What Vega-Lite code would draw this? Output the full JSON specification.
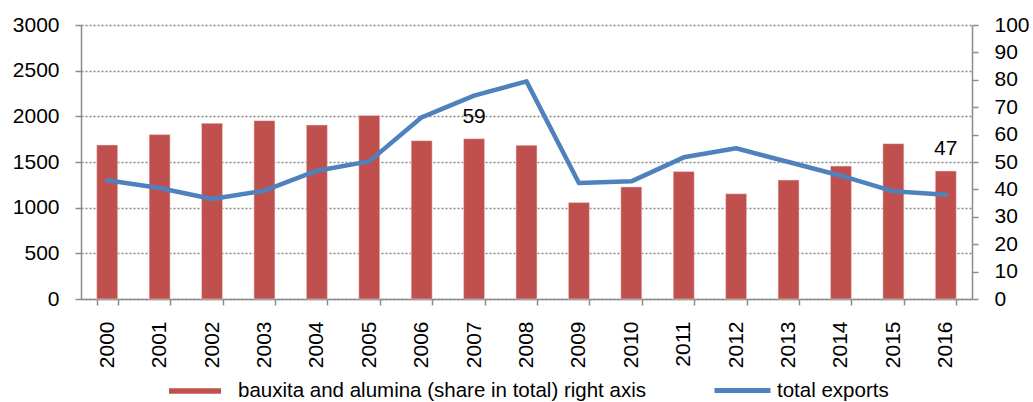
{
  "$schema": "https://vega.github.io/schema/vega-lite/v6.json",
  "autosize": "none",
  "width": 891,
  "height": 274,
  "padding": {"left": 81, "top": 25, "right": 61, "bottom": 103},
  "background": "white",
  "config": {
    "view": {"stroke": null},
    "font": "Liberation Sans",
    "axis": {
      "labelFont": "Liberation Sans",
      "labelFontSize": 21,
      "labelColor": "#000000",
      "domainColor": "#8c8c8c",
      "domainWidth": 1.5,
      "tickColor": "#8c8c8c",
      "tickWidth": 1.5,
      "tickSize": 6,
      "title": null
    },
    "legend": {
      "labelFont": "Liberation Sans",
      "labelFontSize": 20.5,
      "labelColor": "#000000",
      "labelLimit": 0,
      "title": null
    }
  },
  "data": {
    "values": [
      {"year": "2000", "share": 56.2, "exports": 1300},
      {"year": "2001", "share": 60.0, "exports": 1215},
      {"year": "2002", "share": 64.1, "exports": 1095},
      {"year": "2003", "share": 65.1, "exports": 1186},
      {"year": "2004", "share": 63.5, "exports": 1405},
      {"year": "2005", "share": 67.0, "exports": 1507},
      {"year": "2006", "share": 57.8, "exports": 1989},
      {"year": "2007", "share": 58.5, "exports": 2226, "label": "59"},
      {"year": "2008", "share": 56.1, "exports": 2383},
      {"year": "2009", "share": 35.2, "exports": 1270},
      {"year": "2010", "share": 40.9, "exports": 1288},
      {"year": "2011", "share": 46.5, "exports": 1551},
      {"year": "2012", "share": 38.4, "exports": 1650},
      {"year": "2013", "share": 43.4, "exports": 1500},
      {"year": "2014", "share": 48.5, "exports": 1350},
      {"year": "2015", "share": 56.7, "exports": 1179},
      {"year": "2016", "share": 46.7, "exports": 1142, "label": "47"}
    ]
  },
  "encoding": {
    "x": {
      "field": "year",
      "type": "nominal",
      "scale": {"paddingInner": 0.6, "paddingOuter": 0.3},
      "axis": {
        "labelAngle": -90,
        "labelAlign": "right",
        "labelBaseline": "middle",
        "labelPadding": 16,
        "tickBand": "extent",
        "grid": false
      }
    }
  },
  "layer": [
    {
      "encoding": {
        "y": {
          "field": "share",
          "type": "quantitative",
          "scale": {"domain": [0, 100], "nice": false},
          "axis": {
            "orient": "right",
            "values": [0, 10, 20, 30, 40, 50, 60, 70, 80, 90, 100],
            "grid": false,
            "labelPadding": 16,
            "format": "d"
          }
        }
      },
      "layer": [
        {
          "mark": {"type": "bar", "stroke": "#f2dcdb", "strokeWidth": 0.5},
          "encoding": {
            "fill": {
              "datum": "bauxita and alumina (share in total) right axis",
              "scale": {"range": ["#C0504D"]},
              "legend": {
                "orient": "none",
                "legendX": 88,
                "legendY": 340,
                "symbolType": "M-1,-0.106H1V0.106H-1Z",
                "symbolSize": 2704,
                "symbolStrokeWidth": 0,
                "labelOffset": 17
              }
            }
          }
        },
        {
          "mark": {"type": "text", "dy": -22, "fontSize": 21, "font": "Liberation Sans", "color": "#000000"},
          "transform": [{"filter": "isValid(datum.label)"}],
          "encoding": {
            "text": {"field": "label"}
          }
        }
      ]
    },
    {
      "mark": {"type": "line", "strokeWidth": 4.5, "strokeJoin": "round", "strokeCap": "round"},
      "encoding": {
        "y": {
          "field": "exports",
          "type": "quantitative",
          "scale": {"domain": [0, 3000], "nice": false},
          "axis": {
            "orient": "left",
            "values": [0, 500, 1000, 1500, 2000, 2500, 3000],
            "format": "d",
            "grid": true,
            "gridColor": "#888888",
            "gridDash": [2, 2],
            "gridWidth": 1.5,
            "labelPadding": 16
          }
        },
        "stroke": {
          "datum": "total exports",
          "scale": {"range": ["#4F81BD"]},
          "legend": {
            "orient": "none",
            "legendX": 631,
            "legendY": 335,
            "symbolType": "stroke",
            "symbolSize": 3136,
            "symbolStrokeWidth": 5,
            "labelOffset": 4
          }
        }
      }
    }
  ],
  "resolve": {"scale": {"y": "independent", "fill": "independent", "stroke": "independent"}}
}
